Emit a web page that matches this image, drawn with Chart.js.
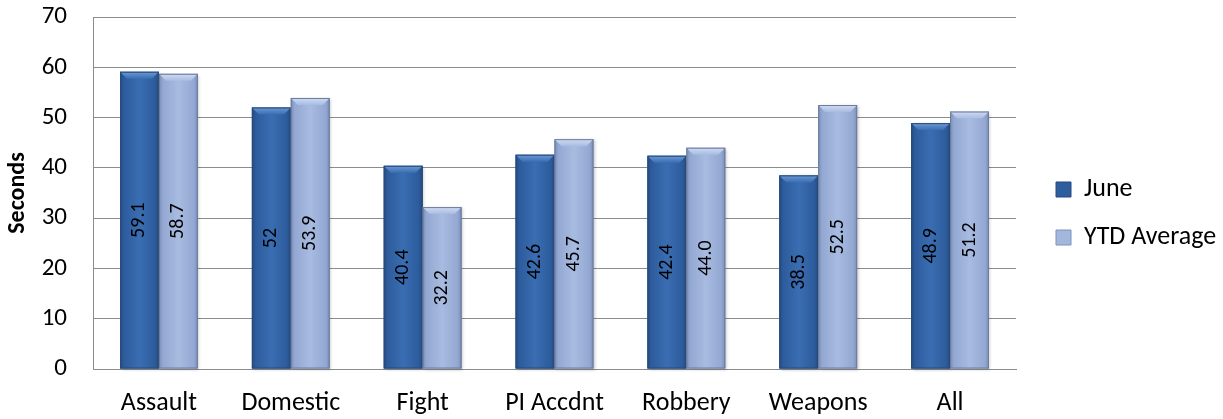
<!DOCTYPE html>
<html><head><meta charset="utf-8">
<script src="https://cdn.jsdelivr.net/npm/chart.js@4"></script>
<style>html,body{margin:0;padding:0;background:#fff}#wrap{width:1223px;height:419px}</style>
</head><body><div id="wrap"><canvas id="c"></canvas></div>
<script>
const categories = ['Assault','Domestic','Fight','PI Accdnt','Robbery','Weapons','All'];
const juneValues = [59.1, 52, 40.4, 42.6, 42.4, 38.5, 48.9];
const ytdValues = [58.7, 53.9, 32.2, 45.7, 44.0, 52.5, 51.2];
const juneLabels = ['59.1','52','40.4','42.6','42.4','38.5','48.9'];
const ytdLabels = ['58.7','53.9','32.2','45.7','44.0','52.5','51.2'];
const yTicks = [0,10,20,30,40,50,60,70];

const FONT = 'Carlito, Calibri, Lato, sans-serif';

const bevel = {
  id:'bevel',
  afterDatasetsDraw(chart){
    const ctx = chart.ctx;
    chart.data.datasets.forEach((ds, di) => {
      const meta = chart.getDatasetMeta(di);
      meta.data.forEach((bar, i) => {
        const x0 = bar.x - bar.width/2, x1 = bar.x + bar.width/2;
        const top = bar.y, bot = bar.base;
        const g = ctx.createLinearGradient(x0,0,x1,0);
        const c = ds.grad;
        g.addColorStop(0, c[0]); g.addColorStop(0.1, c[1]); g.addColorStop(0.5, c[2]); g.addColorStop(0.9, c[1]); g.addColorStop(1, c[0]);
        ctx.save();
        ctx.shadowColor = 'rgba(0,0,0,0.22)'; ctx.shadowBlur = 3; ctx.shadowOffsetX = 1.5; ctx.shadowOffsetY = 1;
        ctx.fillStyle = g;
        ctx.fillRect(x0, top, x1-x0, bot-top);
        ctx.shadowColor = 'rgba(0,0,0,0)';
        const b = 7;
        const tg = ctx.createLinearGradient(0, top, 0, top+b);
        tg.addColorStop(0, c[3]); tg.addColorStop(1, c[2]);
        ctx.beginPath();
        ctx.moveTo(x0, top); ctx.lineTo(x1, top); ctx.lineTo(x1-b, top+b); ctx.lineTo(x0+b, top+b); ctx.closePath();
        ctx.fillStyle = tg; ctx.fill();
        ctx.strokeStyle = c[4]; ctx.lineWidth = 1;
        ctx.strokeRect(x0+0.5, top+0.5, x1-x0-1, bot-top-1);
        ctx.translate(bar.x, (top+bot)/2);
        ctx.rotate(-Math.PI/2);
        ctx.fillStyle = '#000';
        ctx.font = '20px ' + FONT;
        ctx.textAlign = 'center'; ctx.textBaseline = 'middle';
        ctx.fillText(ds.valueLabels[i], 0, 0);
        ctx.restore();
      });
    });
  }
};

new Chart(document.getElementById('c'), {
  type:'bar',
  data:{
    labels: categories,
    datasets:[
      {label:'June', data: juneValues, valueLabels: juneLabels, backgroundColor:'#3465a8', borderWidth:0,
       grad:['#234a82','#2d5c9c','#3a6db2','#6b9ad6','#2a4a78'], categoryPercentage:0.59, barPercentage:1},
      {label:'YTD Average', data: ytdValues, valueLabels: ytdLabels, backgroundColor:'#9fb3da', borderWidth:0,
       grad:['#7a8db6','#93a8d2','#a8bbe1','#d0dcf3','#6c7c9c'], categoryPercentage:0.59, barPercentage:1}
    ]
  },
  options:{
    responsive:true, maintainAspectRatio:false, animation:false,
    layout:{padding:{top:0,right:0,bottom:-8,left:4}},
    plugins:{
      tooltip:{enabled:false},
      legend:{
        position:'right', align:'center', maxWidth:189,
        labels:{
          boxWidth:15, boxHeight:15, padding:22, color:'#000', font:{size:26, family:FONT},
          generateLabels(chart){
            return chart.data.datasets.map((d,i)=>({text:d.label, fontColor:'#000', fillStyle: i===0?'#2f5e9e':'#a3b7dd', strokeStyle: i===0?'#24497f':'#7f92bb', lineWidth:1, hidden:false, datasetIndex:i}));
          }
        }
      }
    },
    scales:{
      x:{
        grid:{display:false, drawTicks:false},
        border:{display:true, color:'#8c8c8c', width:1},
        ticks:{color:'#000', font:{size:26, family:FONT}, padding:19},
        afterFit(scale){ scale.height = 58; }
      },
      y:{
        min:0, max:70,
        afterBuildTicks(axis){ axis.ticks = yTicks.map(v=>({value:v})); },
        grid:{color:'#8c8c8c', lineWidth:1, drawTicks:true, tickLength:24, tickColor:'rgba(0,0,0,0)'},
        border:{display:true, color:'#8c8c8c', width:1},
        ticks:{color:'#000', font:{size:25, family:FONT}, padding:2},
        title:{display:true, text:'Seconds', color:'#000', font:{size:24, weight:'bold', family:FONT}, padding:{top:0,bottom:0}},
        afterFit(scale){ scale.width = 89; }
      },
      gap:{
        position:'right', display:true, min:0, max:1,
        grid:{display:false, drawTicks:false}, border:{display:false},
        ticks:{display:false},
        afterFit(scale){ scale.width = 18; }
      }
    }
  },
  plugins:[bevel]
});
</script></body></html>
